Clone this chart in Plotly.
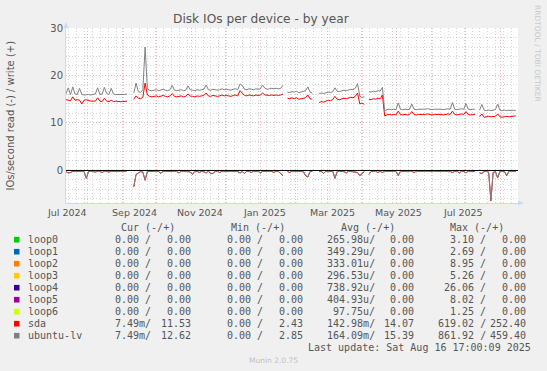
import plotly.graph_objects as go
import pandas as pd

# ---------------- data ----------------
t_end = pd.Timestamp("2025-08-16 17:00:09")
t_start = t_end - pd.Timedelta(days=400)
n_points = 200
dates = [t_start + pd.Timedelta(days=2 * i) for i in range(n_points)]

# ubuntu-lv writes (+)
lv_write = [
    16.2, 17.4, 16.0, 17.6, 16.1, 16.0, 17.3, 16.0, 15.9, 16.0,
    16.0, 15.9, 16.0, 16.1, 17.4, 16.0, 16.1, 17.5, 16.2, 16.0,
    17.3, 16.1, 16.0, 16.0, 15.9, 16.0, 16.0, 16.1, None, None,
    16.3, 18.4, 16.6, 16.4, 17.0, 26.0, 17.2, 16.9, 16.8, 16.9,
    17.0, 16.8, 16.9, 17.1, 16.9, 16.8, 17.0, 17.9, 16.9, 16.8,
    16.9, 17.0, 16.8, 16.9, 17.8, 17.0, 16.9, 16.8, 17.0, 16.9,
    17.0, 17.1, 18.0, 17.0, 16.9, 17.1, 17.0, 16.9, 17.0, 17.2,
    17.0, 17.1, 17.0, 16.9, 17.1, 17.2, 17.0, 18.2, 17.9, 17.1,
    17.0, 17.2, 17.1, 17.0, 17.2, 17.1, 17.2, 18.0, 17.3, 17.1,
    17.2, 17.3, 17.2, 17.3, 17.2, 17.3, 17.9, None, 16.5, 16.4,
    16.6, 16.5, 16.7, 16.4, 16.5, 16.6, 16.8, 17.6, 16.5, 16.3,
    None, None, 16.2, 16.3, 16.2, 16.4, 16.5, 16.4, 16.6, 17.4,
    16.7, 16.6, 16.8, 16.9, 16.8, 17.0, 17.1, 17.0, 17.3, 18.3,
    15.6, 15.4, 15.5, None, 16.6, 16.5, 16.7, 16.6, 16.8, 16.7,
    17.5, 12.6, 12.8, 12.9, 12.8, 12.9, 12.8, 14.2, 12.9, 12.8,
    12.9, 12.8, 12.9, 14.0, 12.9, 12.8, 12.9, 12.9, 12.8, 12.9,
    13.0, 12.9, 12.8, 12.9, 12.9, 13.0, 12.9, 12.8, 12.9, 13.0,
    12.9, 14.3, 12.9, 12.8, 12.9, 13.0, 12.9, 14.1, 12.9, 12.8,
    12.9, 12.9, None, 12.7, 13.9, 12.7, 12.6, 12.7, 12.6, 12.7,
    12.8, 14.0, 12.7, 12.6, 12.7, 12.6, 12.7, 12.6, 12.7, 12.6,
]

# sda writes (+)
sda_write = [
    14.9, 14.8, 14.7, 15.5, 14.8, 14.9, 14.8, 14.0, 14.8, 14.9,
    14.7, 14.6, 14.6, 14.6, 15.3, 14.6, 14.5, 15.2, 14.6, 14.5,
    14.8, 14.5, 14.6, 14.5, 14.5, 14.5, 14.5, 14.6, None, None,
    15.0, 15.7, 15.2, 15.1, 15.4, 18.4, 15.9, 15.6, 15.5, 15.6,
    15.7, 15.5, 15.6, 15.8, 15.6, 15.5, 15.7, 16.2, 15.6, 15.5,
    15.6, 15.7, 15.5, 15.6, 16.1, 15.7, 15.6, 15.5, 15.7, 15.6,
    15.7, 15.8, 16.3, 15.7, 15.6, 15.8, 15.7, 15.6, 15.7, 15.9,
    15.7, 15.8, 15.7, 15.6, 15.8, 15.9, 15.7, 16.8, 16.3, 15.8,
    15.7, 15.9, 15.8, 15.7, 15.9, 15.8, 15.9, 16.3, 15.9, 15.8,
    15.8, 15.9, 15.8, 15.9, 15.8, 15.9, 16.1, None, 15.2, 15.1,
    15.3, 15.1, 15.3, 15.0, 15.1, 15.2, 15.3, 15.9, 15.1, 15.0,
    None, None, 14.3, 14.5, 14.4, 14.6, 14.8, 14.7, 14.9, 15.6,
    15.0, 14.9, 15.1, 15.2, 15.1, 15.3, 15.4, 15.3, 15.6, 16.3,
    14.0, 14.2, 13.9, None, 15.0, 14.9, 15.1, 15.0, 15.2, 15.1,
    15.9, 11.5, 11.7, 11.8, 11.7, 11.8, 11.7, 12.5, 11.8, 11.7,
    11.8, 11.7, 11.8, 12.4, 11.8, 11.7, 11.8, 11.8, 11.7, 11.8,
    11.9, 11.8, 11.7, 11.8, 11.8, 11.9, 11.8, 11.7, 11.8, 11.9,
    11.8, 12.5, 11.8, 11.7, 11.8, 11.9, 11.8, 12.4, 11.8, 11.7,
    11.8, 11.8, None, 11.3, 11.9, 11.2, 11.3, 11.4, 11.3, 11.4,
    11.4, 11.9, 11.3, 11.2, 11.3, 11.4, 11.3, 11.4, 11.5, 11.5,
]

# ubuntu-lv reads (-)
lv_read = [
    -0.2, -0.5, -0.4, -0.15, -0.1, -0.2, -0.15, -0.1, -0.2, -1.6,
    -0.15, -0.1, -0.2, -0.3, -0.1, -0.15, -0.4, -0.1, -0.15, -0.3,
    -0.1, -0.15, -0.1, -0.2, -0.1, -0.15, -0.1, -0.1, None, None,
    -3.3, -0.8, -0.5, -0.2, -0.3, -2.0, -0.2, -0.15, -0.1, -0.2,
    -0.1, -0.15, -0.6, -0.1, -0.15, -0.2, -0.1, -0.15, -0.1, -0.2,
    -0.5, -0.1, -0.15, -0.1, -0.2, -0.3, -0.8, -0.1, -0.15, -0.4,
    -0.1, -0.2, -0.5, -0.1, -0.6, -0.6, -0.15, -0.1, -0.4, -0.1,
    -0.15, -0.1, -0.2, -0.1, -0.15, -0.1, -0.2, -0.5, -0.15, -0.6,
    -0.1, -0.15, -0.4, -0.1, -0.2, -0.1, -0.5, -0.15, -0.1, -0.2,
    -0.1, -0.15, -0.4, -0.1, -0.2, -0.6, -1.0, None, -0.2, -0.4,
    -0.1, -0.15, -0.2, -0.1, -0.15, -0.2, -1.0, -1.3, -0.2, -0.1,
    None, None, -0.2, -0.15, -0.6, -0.1, -0.2, -0.15, -0.1, -1.6,
    -0.2, -0.1, -0.15, -0.2, -0.5, -0.1, -0.15, -0.2, -0.3, -0.4,
    -1.0, -0.6, -0.2, None, -0.8, -0.2, -0.15, -0.1, -0.4, -0.15,
    -0.4, -0.1, -0.15, -0.1, -0.2, -0.1, -0.15, -1.0, -0.1, -0.15,
    -0.1, -0.2, -0.1, -0.15, -0.4, -0.1, -0.15, -0.1, -0.2, -0.1,
    -0.15, -0.1, -0.2, -0.1, -0.15, -0.1, -0.2, -0.1, -0.15, -0.1,
    -0.2, -0.4, -0.15, -0.1, -0.5, -0.1, -0.15, -0.5, -0.1, -0.2,
    -0.1, -0.15, None, -0.5, -0.6, -0.2, -0.15, -0.3, -6.2, -0.4,
    -0.2, -1.5, -0.15, -0.1, -0.2, -1.0, -0.15, -0.1, -0.2, -0.15,
]

# sda reads (-)
sda_read = [
    -0.25, -0.55, -0.45, -0.2, -0.15, -0.25, -0.2, -0.15, -0.25, -1.7,
    -0.2, -0.15, -0.25, -0.35, -0.15, -0.2, -0.45, -0.15, -0.2, -0.35,
    -0.15, -0.2, -0.15, -0.25, -0.15, -0.2, -0.15, -0.15, None, None,
    -3.5, -0.9, -0.55, -0.25, -0.35, -2.1, -0.25, -0.2, -0.15, -0.25,
    -0.15, -0.2, -0.65, -0.15, -0.2, -0.25, -0.15, -0.2, -0.15, -0.25,
    -0.55, -0.15, -0.2, -0.15, -0.25, -0.35, -0.85, -0.15, -0.2, -0.45,
    -0.15, -0.25, -0.55, -0.15, -0.65, -0.65, -0.2, -0.15, -0.45, -0.15,
    -0.2, -0.15, -0.25, -0.15, -0.2, -0.15, -0.25, -0.55, -0.2, -0.65,
    -0.15, -0.2, -0.45, -0.15, -0.25, -0.15, -0.55, -0.2, -0.15, -0.25,
    -0.15, -0.2, -0.45, -0.15, -0.25, -0.65, -1.1, None, -0.25, -0.45,
    -0.15, -0.2, -0.25, -0.15, -0.2, -0.25, -1.1, -1.4, -0.25, -0.15,
    None, None, -0.25, -0.2, -0.65, -0.15, -0.25, -0.2, -0.15, -1.7,
    -0.25, -0.15, -0.2, -0.25, -0.55, -0.15, -0.2, -0.25, -0.35, -0.45,
    -1.1, -0.65, -0.25, None, -0.85, -0.25, -0.2, -0.15, -0.45, -0.2,
    -0.45, -0.15, -0.2, -0.15, -0.25, -0.15, -0.2, -1.1, -0.15, -0.2,
    -0.15, -0.25, -0.15, -0.2, -0.45, -0.15, -0.2, -0.15, -0.25, -0.15,
    -0.2, -0.15, -0.25, -0.15, -0.2, -0.15, -0.25, -0.15, -0.2, -0.15,
    -0.25, -0.45, -0.2, -0.15, -0.55, -0.15, -0.2, -0.55, -0.15, -0.25,
    -0.15, -0.2, None, -0.55, -0.65, -0.25, -0.2, -0.35, -6.4, -0.45,
    -0.25, -1.6, -0.2, -0.15, -0.25, -1.1, -0.2, -0.15, -0.25, -0.2,
]

x_labels = ["Jul 2024", "Sep 2024", "Nov 2024", "Jan 2025", "Mar 2025", "May 2025", "Jul 2025"]
x_label_px = [67.2, 134.0, 200.0, 264.3, 332.0, 398.0, 463.3]
month_starts = pd.date_range("2024-08-01", "2025-08-01", freq="MS")

legend_names = ["loop0", "loop1", "loop2", "loop3", "loop4", "loop5", "loop6", "sda", "ubuntu-lv"]
legend_colors = ["#00CC00", "#0066B3", "#FF8000", "#FFCC00", "#330099", "#990099", "#CCFF00", "#FF0000", "#808080"]
cur_read = ["0.00 /"] * 7 + ["7.49m/", "7.49m/"]
cur_write = ["0.00"] * 7 + ["11.53", "12.62"]
min_read = ["0.00 /"] * 9
min_write = ["0.00"] * 7 + ["2.43", "2.85"]
avg_read = ["265.98u/", "349.29u/", "333.01u/", "296.53u/", "738.92u/", "404.93u/", "97.75u/", "142.98m/", "164.09m/"]
avg_write = ["0.00"] * 7 + ["14.07", "15.39"]
max_read = ["3.10 /", "2.69 /", "8.95 /", "5.26 /", "26.06 /", "8.02 /", "1.25 /", "619.02 /", "861.92 /"]
max_write = ["0.00"] * 7 + ["252.40", "459.40"]

# ---------------- layout geometry ----------------
W, H = 547, 371
L, R, T, B = 66, 518, 28, 203
FONT = "DejaVu Sans"
MONO = "DejaVu Sans Mono"
TXT = "#555555"
MGRID = "rgba(230,110,110,0.5)"
GRID = "rgba(150,150,150,0.4)"
AXIS = "#CFD6F8"


def px(x):
    return (x - L) / (R - L)


def py(y):
    return (B - y) / (B - T)


fig = go.Figure()
fig.add_trace(go.Scatter(x=dates, y=sda_read, mode="lines", line=dict(color="#FF0000", width=1), connectgaps=False))
fig.add_trace(go.Scatter(x=dates, y=sda_write, mode="lines", line=dict(color="#FF0000", width=1), connectgaps=False))
fig.add_trace(go.Scatter(x=dates, y=lv_read, mode="lines", line=dict(color="#808080", width=1), connectgaps=False))
fig.add_trace(go.Scatter(x=dates, y=lv_write, mode="lines", line=dict(color="#808080", width=1), connectgaps=False))

shapes = []
shapes.append(dict(type="line", xref="paper", yref="y", x0=0, x1=1, y0=0, y1=0,
                   line=dict(color="#000000", width=1), layer="above"))
shapes.append(dict(type="path", xref="paper", yref="paper",
                   path=f"M {px(63.5)} {py(28)} L {px(68.5)} {py(28)} L {px(66)} {py(22)} Z",
                   fillcolor=AXIS, line=dict(width=0), layer="above"))
shapes.append(dict(type="path", xref="paper", yref="paper",
                   path=f"M {px(518)} {py(200.5)} L {px(518)} {py(205.5)} L {px(524)} {py(203)} Z",
                   fillcolor=AXIS, line=dict(width=0), layer="above"))

annotations = []
annotations.append(dict(text="Disk IOs per device - by year", x=px(261), y=py(19), xref="paper", yref="paper",
                        showarrow=False, font=dict(family=FONT, size=12.2, color=TXT), xanchor="center", yanchor="middle"))
annotations.append(dict(text="IOs/second read (-) / write (+)", x=px(10), y=py(115.5), xref="paper", yref="paper",
                        showarrow=False, textangle=-90, font=dict(family=FONT, size=10, color=TXT),
                        xanchor="center", yanchor="middle"))
annotations.append(dict(text="RRDTOOL / TOBI OETIKER", x=px(538), y=py(53), xref="paper", yref="paper",
                        showarrow=False, textangle=90, font=dict(family=FONT, size=7.5, color="#C8C8C8"),
                        xanchor="center", yanchor="middle"))
for lab, lp in zip(x_labels, x_label_px):
    d = t_start + pd.Timedelta(days=(lp - L) / (R - L) * 400)
    annotations.append(dict(text=lab, x=d, y=py(212.7), xref="x", yref="paper", showarrow=False,
                            font=dict(family=FONT, size=9.5, color=TXT), xanchor="center", yanchor="middle"))

for hdr, hx in [("Cur (-/+)", 148), ("Min (-/+)", 257.5), ("Avg (-/+)", 368), ("Max (-/+)", 477)]:
    annotations.append(dict(text=hdr, x=px(hx), y=py(227), xref="paper", yref="paper", showarrow=False,
                            font=dict(family=MONO, size=10, color=TXT), xanchor="center", yanchor="middle"))

cols = [(cur_read, 153), (cur_write, 193), (min_read, 264.5), (min_write, 304.5),
        (avg_read, 376.5), (avg_write, 416), (max_read, 488), (max_write, 528)]
for k, name in enumerate(legend_names):
    yy = 239.7 + 12 * k
    shapes.append(dict(type="rect", xref="paper", yref="paper", x0=px(14), x1=px(19.5), y0=py(yy - 2.8), y1=py(yy + 2.8),
                       fillcolor=legend_colors[k], line=dict(width=0)))
    annotations.append(dict(text=name, x=px(26), y=py(yy), xref="paper", yref="paper", showarrow=False,
                            font=dict(family=MONO, size=10, color=TXT), xanchor="left", yanchor="middle"))
    for arr, rx in cols:
        annotations.append(dict(text=arr[k], x=px(rx), y=py(yy), xref="paper", yref="paper", showarrow=False,
                                font=dict(family=MONO, size=10, color=TXT), xanchor="right", yanchor="middle"))

annotations.append(dict(text="Last update: Sat Aug 16 17:00:09 2025", x=px(533), y=py(347.5), xref="paper", yref="paper",
                        showarrow=False, font=dict(family=MONO, size=10, color=TXT), xanchor="right", yanchor="middle"))
annotations.append(dict(text="Munin 2.0.75", x=px(273), y=py(360), xref="paper", yref="paper",
                        showarrow=False, font=dict(family=FONT, size=7.5, color="#C0C0C0"), xanchor="center", yanchor="middle"))

fig.update_layout(
    width=W, height=H,
    margin=dict(l=L, r=W - R, t=T, b=H - B, pad=0),
    paper_bgcolor="#F0F0F0", plot_bgcolor="#FFFFFF",
    showlegend=False,
    xaxis=dict(type="date", range=[t_start, t_end], tickvals=list(month_starts), showticklabels=False,
               showgrid=True, gridcolor=MGRID, griddash="1px,2px", gridwidth=1,
               minor=dict(tickmode="linear", tick0="2024-07-15", dtick=7 * 86400000, showgrid=True,
                          gridcolor=GRID, griddash="1px,2px"),
               showline=True, linecolor=AXIS, linewidth=1, ticks="", zeroline=False),
    yaxis=dict(range=[-6.85, 30], tick0=0, dtick=10, showgrid=True, gridcolor=MGRID, griddash="1px,2px",
               minor=dict(dtick=2, showgrid=True, gridcolor=GRID, griddash="1px,2px"),
               showline=True, linecolor=AXIS, linewidth=1, ticks="", zeroline=False,
               tickfont=dict(family=FONT, size=10, color=TXT)),
    shapes=shapes, annotations=annotations,
)

fig.write_html("out.html", config={"displayModeBar": False},
               post_script="document.body.style.margin='0px';document.body.style.overflow='hidden';")
